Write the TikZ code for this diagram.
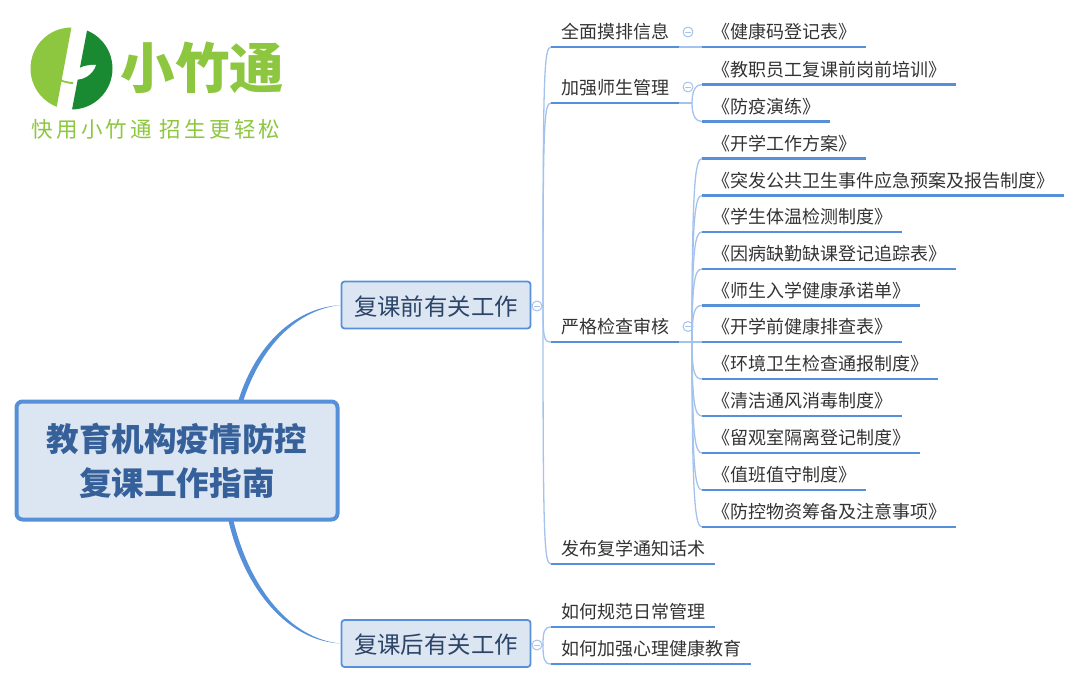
\documentclass[tikz,border=0pt]{standalone}
\usepackage{xcolor}
\usepackage{fontspec}
\setmainfont{Noto Sans CJK SC}
\usetikzlibrary{positioning,calc}
\definecolor{linedark}{HTML}{5590D8}
\definecolor{linelight}{HTML}{A4C3EC}
\definecolor{boxfill}{HTML}{DCE5F2}
\definecolor{rootink}{HTML}{35609A}
\definecolor{midink}{HTML}{2B4468}
\definecolor{leafink}{HTML}{333333}
\definecolor{lightgreen}{HTML}{8DC63F}
\definecolor{darkgreen}{HTML}{1A8A32}
\tikzset{
	rootbox/.style={draw=linedark,fill=boxfill,line width=4pt,rounded corners=6pt,minimum width=321pt,minimum height=118pt,align=center,text=rootink,font=\fontsize{32.6}{44}\selectfont\bfseries},
	midbox/.style={draw=linedark,fill=boxfill,line width=1.8pt,rounded corners=3pt,minimum width=189pt,minimum height=47pt,text height=24pt,text depth=4pt,text=midink,font=\fontsize{23.4}{28}\selectfont},
	topicnode/.style={anchor=south west,inner xsep=10pt,inner ysep=0pt,text height=16pt,text depth=8pt,text=leafink,font=\fontsize{18}{22}\selectfont},
	underline/.style={draw=linedark,line width=2.6pt,line cap=butt},
	branch/.style={draw=linelight,line width=1.3pt},
	foldmark/.style={circle,draw=linelight,line width=1pt,inner sep=0pt,minimum size=10pt,path picture={\draw[linelight,line width=1pt] ($(path picture bounding box.center)+(-2.5pt,0)$)--($(path picture bounding box.center)+(2.5pt,0)$);}},
}
\begin{document}
\begin{tikzpicture}[line cap=round,line join=round,x=1pt,y=-1pt]
	\useasboundingbox (0,0) rectangle (1080,683);
	% logo
	\begin{scope}
		\clip (71.5,68.5) circle (41);
		\fill[lightgreen] (20,20) -- (72.8,20) -- (55.2,115) -- (20,115) -- cycle;
		\fill[darkgreen] (89,20) -- (125,20) -- (125,115) -- (71,115) -- cycle;
	\end{scope}
	\fill[lightgreen] (58,80.5) .. controls (63,82) and (68,84) .. (73,84) -- (73,82) .. controls (68,82) and (63,80.5) .. (58,78.5) -- cycle;
	\fill[white] (70,79) .. controls (72,70) and (83,64) .. (96,65) .. controls (93,75) and (82,82) .. (70,79) -- cycle;
	\node[anchor=center,text=lightgreen,font=\fontsize{54.5}{55}\selectfont\bfseries,inner sep=0pt] (logoname) at (202.5,68) {小竹通};
	\node[anchor=center,text=lightgreen,font=\fontsize{21.5}{24}\selectfont,inner sep=0pt] (slogan) at (156,129) {\addfontfeature{LetterSpace=15}快用小竹通 招生更轻松};
	% boxes
	\node[rootbox] (guide) at (177,460.5) {教育机构疫情防控\\复课工作指南};
	\node[midbox] (before) at (436,305) {复课前有关工作};
	\node[midbox] (after) at (436,643.5) {复课后有关工作};
	\node[foldmark] (foldbefore) at (537,306) {};
	\node[foldmark] (foldafter) at (537,645) {};
	% second level
	\node[topicnode] (info) at (551,47) {全面摸排信息};
	\node[topicnode] (manage) at (551,103) {加强师生管理};
	\node[topicnode] (check) at (551,342) {严格检查审核};
	\node[topicnode] (notice) at (551,564) {发布复学通知话术};
	\node[topicnode] (daily) at (551,627) {如何规范日常管理};
	\node[topicnode] (mental) at (551,664) {如何加强心理健康教育};
	\node[foldmark] (foldinfo) at (688,32) {};
	\node[foldmark] (foldmanage) at (688,87) {};
	\node[foldmark] (foldcheck) at (688,326.5) {};
	% leaves
	\node[topicnode] (code) at (702,47) {《健康码登记表》};
	\node[topicnode] (train) at (702,84.5) {《教职员工复课前岗前培训》};
	\node[topicnode] (drill) at (702,121.5) {《防疫演练》};
	\node[topicnode] (plan) at (702,158.5) {《开学工作方案》};
	\node[topicnode] (emergency) at (702,195.5) {《突发公共卫生事件应急预案及报告制度》};
	\node[topicnode] (temp) at (702,232) {《学生体温检测制度》};
	\node[topicnode] (absence) at (702,269) {《因病缺勤缺课登记追踪表》};
	\node[topicnode] (pledge) at (702,305.5) {《师生入学健康承诺单》};
	\node[topicnode] (survey) at (702,342) {《开学前健康排查表》};
	\node[topicnode] (clean) at (702,379) {《环境卫生检查通报制度》};
	\node[topicnode] (air) at (702,416) {《清洁通风消毒制度》};
	\node[topicnode] (isolate) at (702,453) {《留观室隔离登记制度》};
	\node[topicnode] (duty) at (702,490) {《值班值守制度》};
	\node[topicnode] (supply) at (702,527) {《防控物资筹备及注意事项》};
	% thick branches
	\coordinate (upa) at (238.5,400);
	\coordinate (upb) at (243.5,400);
	\coordinate (downa) at (228.5,521);
	\coordinate (downb) at (233.5,521);
	\fill[linedark] (upa) .. controls (256,345) and (294,308) .. (before.west) .. controls (296,310) and (261,347) .. (upb) -- cycle;
	\fill[linedark] (downa) .. controls (245,591) and (289,641) .. (after.west) .. controls (291,639) and (250,589) .. (downb) -- cycle;
	% thin branches
	\draw[branch] (before.east) -- (foldbefore);
	\draw[branch] (after.east) -- (foldafter);
	\coordinate (beforefork) at (543,306);
	\coordinate (afterfork) at (543,645);
	\coordinate (managefork) at (692,103);
	\coordinate (checkfork) at (692,342);
	\draw[branch] (foldbefore) -- (beforefork);
	\draw[branch] (foldafter) -- (afterfork);
	\foreach \n in {info,manage,check,notice}
		\draw[branch] (beforefork) .. controls ($(beforefork)!.9!(beforefork |- \n.south west)$) and +(-7,0) .. (\n.south west);
	\foreach \n in {daily,mental}
		\draw[branch] (afterfork) .. controls ($(afterfork)!.7!(afterfork |- \n.south west)$) and +(-7,0) .. (\n.south west);
	\draw[branch] (info.south east) -- (code.south west);
	\draw[branch] (manage.south east) -- (managefork);
	\foreach \n in {train,drill}
		\draw[branch] (managefork) .. controls ($(managefork)!.7!(managefork |- \n.south west)$) and +(-6,0) .. (\n.south west);
	\draw[branch] (check.south east) -- (checkfork);
	\draw[branch] (checkfork) -- (survey.south west);
	\foreach \n in {plan,emergency,temp,absence,pledge,clean,air,isolate,duty,supply}
		\draw[branch] (checkfork) .. controls ($(checkfork)!.85!(checkfork |- \n.south west)$) and +(-7,0) .. (\n.south west);
	% underlines
	\foreach \n in {info,manage,check,notice,daily,mental,code,train,drill,plan,emergency,temp,absence,pledge,survey,clean,air,isolate,duty,supply}
		\draw[underline] (\n.south west) -- (\n.south east);
\end{tikzpicture}
\end{document}
